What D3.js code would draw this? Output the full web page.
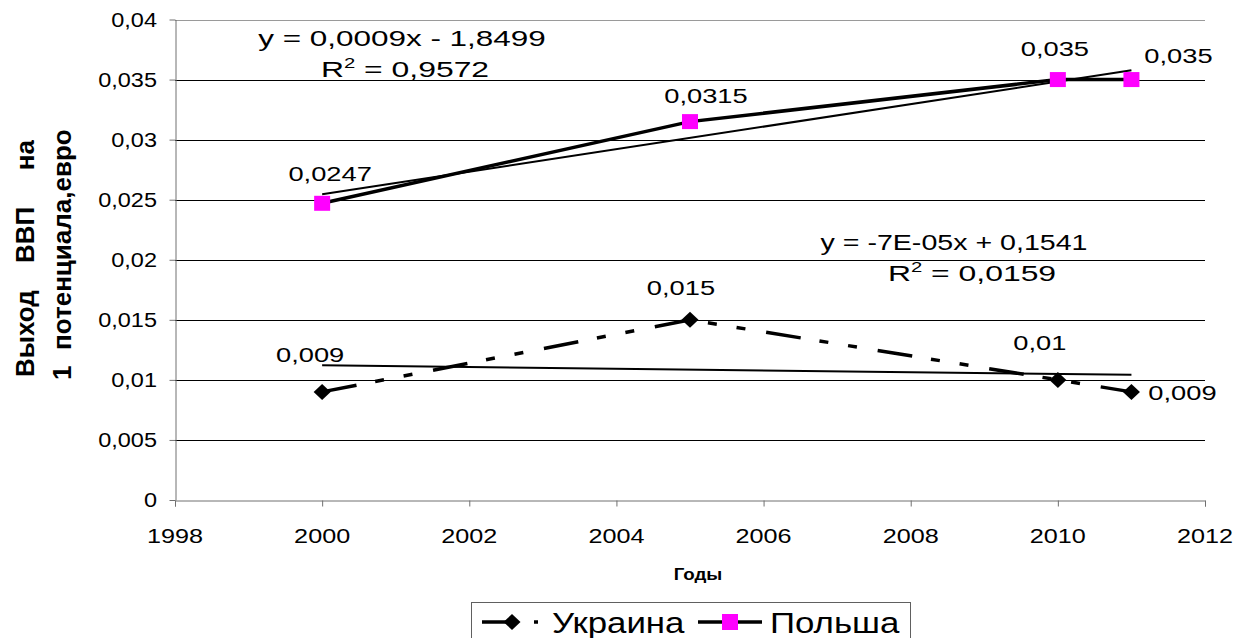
<!DOCTYPE html>
<html>
<head>
<meta charset="utf-8">
<script src="https://cdn.jsdelivr.net/npm/d3@7"></script>
<style>
  body { margin: 0; background: #fff; }
  svg { display: block; font-family: "Liberation Sans", Arial, sans-serif; }
</style>
</head>
<body>
<svg class="chart" width="1246" height="638"></svg>
<script>
(function chart() {
  // data
  const years = [2000, 2005, 2010, 2011];
  const ukraine = [0.009, 0.015, 0.01, 0.009];
  const poland = [0.0247, 0.0315, 0.035, 0.035];
  const xTicks = [1998, 2000, 2002, 2004, 2006, 2008, 2010, 2012];
  const yTicks = [0, 0.005, 0.01, 0.015, 0.02, 0.025, 0.03, 0.035, 0.04];
  const seriesNames = ["Украина", "Польша"];
  const polandEq = ["y = 0,0009x - 1,8499", "0,9572"];
  const ukraineEq = ["y = -7E-05x + 0,1541", "0,0159"];

  const locale = d3.formatLocale({
    decimal: ",",
    thousands: " ",
    grouping: [3],
    currency: ["", ""]
  });
  const fmt = locale.format("~g");

  const svg = d3.select(".chart");

  const x = d3.scaleLinear().domain([1998, 2012]).range([175, 1205]);
  const y = d3.scaleLinear().domain([0, 0.04]).range([500, 19.5]);

  // text helper, the source image is stretched sideways a bit
  function label(g, px, py, str, size, sx, anchor, weight) {
    return g
      .append("text")
      .attr("transform", `translate(${px},${py}) scale(${sx},1)`)
      .attr("text-anchor", anchor || "middle")
      .attr("font-size", size)
      .attr("font-weight", weight || "normal")
      .attr("fill", "#000")
      .text(str);
  }

  // grid
  svg
    .append("g")
    .selectAll("line")
    .data(yTicks.filter((d) => d > 0))
    .enter()
    .append("line")
    .attr("x1", x(1998))
    .attr("x2", x(2012))
    .attr("y1", (d) => Math.round(y(d)) + 0.5)
    .attr("y2", (d) => Math.round(y(d)) + 0.5)
    .attr("stroke", (d) => (d === 0.04 ? "#9a9a9a" : "#000"))
    .attr("stroke-width", 1);

  // axes
  const xAxis = d3
    .axisBottom(x)
    .tickValues(xTicks)
    .tickSize(6)
    .tickFormat("");
  svg
    .append("g")
    .attr("transform", "translate(0,500.5)")
    .call(xAxis)
    .call((g) => g.selectAll("path,line").attr("stroke", "#707070"));

  const yAxis = d3
    .axisLeft(y)
    .tickValues(yTicks)
    .tickSize(6)
    .tickSizeOuter(0)
    .tickFormat("");
  svg
    .append("g")
    .attr("transform", "translate(175.5,0)")
    .call(yAxis)
    .call((g) => g.selectAll("path,line").attr("stroke", "#707070"));

  const tickText = svg.append("g");
  xTicks.forEach((t) => label(tickText, x(t), 543, t, 21, 1.2));
  yTicks.forEach((t) => label(tickText, 157, y(t) + 7, fmt(t), 21, 1.12, "end"));

  // trend lines, least squares over the plotted points
  function fit(vals) {
    const mx = d3.mean(years),
      my = d3.mean(vals);
    const sxy = d3.sum(years, (d, i) => (d - mx) * (vals[i] - my));
    const sxx = d3.sum(years, (d) => (d - mx) * (d - mx));
    const b = sxy / sxx;
    return (t) => my + b * (t - mx);
  }

  const trends = svg.append("g");
  [ukraine, poland].forEach((vals) => {
    const f = fit(vals);
    const x0 = d3.min(years),
      x1 = d3.max(years);
    trends
      .append("line")
      .attr("x1", x(x0))
      .attr("y1", y(f(x0)))
      .attr("x2", x(x1))
      .attr("y2", y(f(x1)))
      .attr("stroke", "#000")
      .attr("stroke-width", 2);
  });

  const line = d3
    .line()
    .x((d, i) => x(years[i]))
    .y((d) => y(d));

  const dashes = "35,19,9,20,9,21";

  svg
    .append("path")
    .datum(ukraine)
    .attr("d", line)
    .attr("fill", "none")
    .attr("stroke", "#000")
    .attr("stroke-width", 3.5)
    .attr("stroke-dasharray", dashes);

  svg
    .append("path")
    .datum(poland)
    .attr("d", line)
    .attr("fill", "none")
    .attr("stroke", "#000")
    .attr("stroke-width", 3.5);

  const diamond = "M0,-8L8.5,0L0,8L-8.5,0Z";

  svg
    .append("g")
    .selectAll("path")
    .data(ukraine)
    .enter()
    .append("path")
    .attr("d", diamond)
    .attr("transform", (d, i) => `translate(${x(years[i])},${y(d)})`)
    .attr("fill", "#000");

  svg
    .append("g")
    .selectAll("rect")
    .data(poland)
    .enter()
    .append("rect")
    .attr("x", (d, i) => x(years[i]) - 8)
    .attr("y", (d) => y(d) - 7.5)
    .attr("width", 16)
    .attr("height", 15)
    .attr("fill", "#ff00ff");

  // data labels
  const ukOffsets = [[-12, -30], [-9, -25], [-18, -30], [51, 8]];
  const plOffsets = [[8, -22], [16, -19], [-3, -24], [47, -17]];
  const labels = svg.append("g");
  ukraine.forEach((v, i) =>
    label(labels, x(years[i]) + ukOffsets[i][0], y(v) + ukOffsets[i][1], fmt(v), 21, 1.3)
  );
  poland.forEach((v, i) =>
    label(labels, x(years[i]) + plOffsets[i][0], y(v) + plOffsets[i][1], fmt(v), 21, 1.3)
  );

  // equations
  function eq(g, cx, cy, rx, lines, sx) {
    label(g, cx, cy, lines[0], 22, sx);
    const r = g
      .append("text")
      .attr("transform", `translate(${rx},${cy + 31}) scale(1.45,1)`)
      .attr("text-anchor", "middle")
      .attr("font-size", 22)
      .attr("fill", "#000");
    r.append("tspan").text("R");
    r.append("tspan").attr("font-size", 14).attr("dy", -9).text("2");
    r.append("tspan").attr("dy", 9).text(" = " + lines[1]);
  }
  const eqs = svg.append("g");
  eq(eqs, 402, 46, 405, polandEq, 1.43);
  eq(eqs, 954, 250, 972, ukraineEq, 1.3);

  // axis titles
  label(svg, 698, 580, "Годы", 17, 1.1, "middle", "bold");

  const yTitle = svg.append("g").attr("font-weight", "bold").attr("font-size", 26);
  [
    ["Выход", 377, 34],
    ["ВВП", 263, 34],
    ["на", 140, 34],
    ["1", 380, 71],
    ["потенциала,евро", 350, 71]
  ].forEach((w) => {
    yTitle
      .append("text")
      .attr("transform", `translate(${w[2]},${w[1]}) rotate(-90)`)
      .attr("text-anchor", w[0] === "на" ? "end" : "start")
      .attr("fill", "#000")
      .text(w[0]);
  });

  // legend
  const legend = svg.append("g");
  legend
    .append("rect")
    .attr("x", 471.5)
    .attr("y", 602.5)
    .attr("width", 439)
    .attr("height", 40)
    .attr("fill", "#fff")
    .attr("stroke", "#606060");

  legend
    .append("line")
    .attr("x1", 482)
    .attr("x2", 541)
    .attr("y1", 622)
    .attr("y2", 622)
    .attr("stroke", "#000")
    .attr("stroke-width", 3.5)
    .attr("stroke-dasharray", "26,26,4,40");
  legend
    .append("path")
    .attr("d", diamond)
    .attr("transform", "translate(512,622)")
    .attr("fill", "#000");
  label(legend, 552, 633, seriesNames[0], 29, 1.2, "start");

  legend
    .append("line")
    .attr("x1", 698)
    .attr("x2", 762)
    .attr("y1", 622)
    .attr("y2", 622)
    .attr("stroke", "#000")
    .attr("stroke-width", 3.5);
  legend
    .append("rect")
    .attr("x", 722)
    .attr("y", 614)
    .attr("width", 16)
    .attr("height", 16)
    .attr("fill", "#ff00ff");
  label(legend, 770, 633, seriesNames[1], 29, 1.2, "start");
})();
</script>
</body>
</html>
